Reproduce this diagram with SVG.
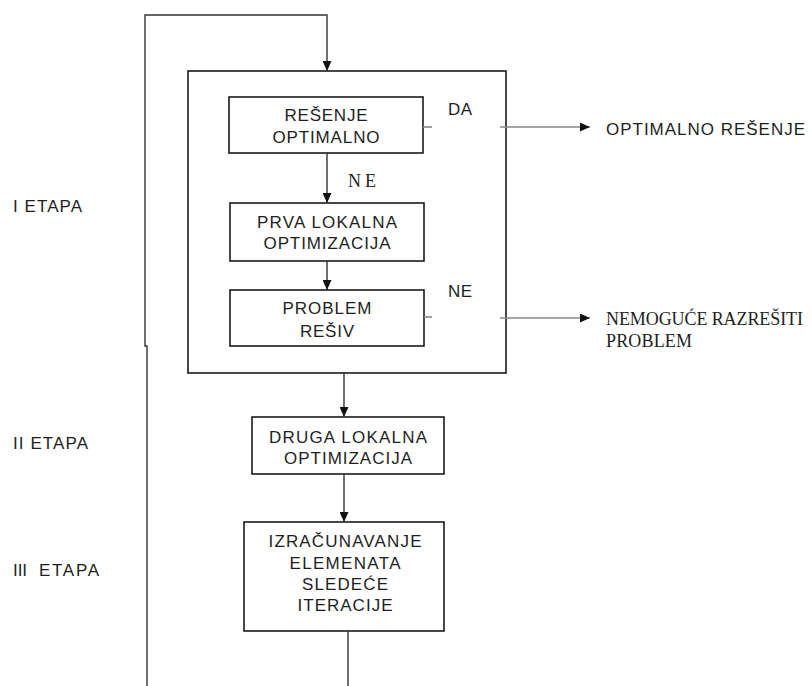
<svg xmlns="http://www.w3.org/2000/svg" width="812" height="686" viewBox="0 0 812 686">
<style>
.box{fill:#fff;stroke:#1a1a1a;stroke-width:1.6}
.t{font-family:"Liberation Sans",Arial,sans-serif;font-size:17px;fill:#1e1e1e}
.s{font-family:"Liberation Serif","Times New Roman",serif;font-size:18px;fill:#1e1e1e}
.c{text-anchor:middle}
.ln{fill:none;stroke:#333;stroke-width:1.4}
.g{fill:none;stroke:#888;stroke-width:1.6}
</style>
<defs>
<marker id="ah" viewBox="0 0 10 9" refX="10" refY="4.5" markerWidth="10" markerHeight="9" orient="auto" markerUnits="userSpaceOnUse"><path d="M0,0 L10,4.5 L0,9 z" fill="#111"/></marker>
</defs>
<rect width="812" height="686" fill="#fff"/>
<g id="stage1">
<rect class="box" x="188" y="71" width="318" height="302"/>
</g>
<g id="n1"><rect class="box" x="229" y="97" width="194" height="56"/>
<text class="t c" x="326" y="121" textLength="83" lengthAdjust="spacing">REŠENJE</text>
<text class="t c" x="326" y="143" textLength="107" lengthAdjust="spacing">OPTIMALNO</text></g>
<g id="n2"><rect class="box" x="230" y="203" width="194" height="58"/>
<text class="t c" x="327" y="228" textLength="140" lengthAdjust="spacing">PRVA LOKALNA</text>
<text class="t c" x="327" y="249" textLength="127" lengthAdjust="spacing">OPTIMIZACIJA</text></g>
<g id="n3"><rect class="box" x="230" y="290" width="194" height="56"/>
<text class="t c" x="327" y="314" textLength="89" lengthAdjust="spacing">PROBLEM</text>
<text class="t c" x="327" y="337" textLength="54" lengthAdjust="spacing">REŠIV</text></g>
<g id="n4"><rect class="box" x="252" y="417" width="192" height="57"/>
<text class="t c" x="348" y="443" textLength="158" lengthAdjust="spacing">DRUGA LOKALNA</text>
<text class="t c" x="348" y="464" textLength="128" lengthAdjust="spacing">OPTIMIZACIJA</text></g>
<g id="n5"><rect class="box" x="244" y="522" width="200" height="109"/>
<text class="t c" x="345" y="547" textLength="153" lengthAdjust="spacing">IZRAČUNAVANJE</text>
<text class="t c" x="345" y="569" textLength="111" lengthAdjust="spacing">ELEMENATA</text>
<text class="t c" x="345" y="590" textLength="86" lengthAdjust="spacing">SLEDEĆE</text>
<text class="t c" x="345" y="611" textLength="95" lengthAdjust="spacing">ITERACIJE</text></g>
<g id="out1"><text class="t" x="606" y="135" textLength="199" lengthAdjust="spacing">OPTIMALNO REŠENJE</text></g>
<g id="out2"><text class="s" x="606" y="325" textLength="197" lengthAdjust="spacing">NEMOGUĆE RAZREŠITI</text>
<text class="s" x="606" y="347" textLength="86" lengthAdjust="spacing">PROBLEM</text></g>
<g id="stages">
<text class="t" x="13" y="212" textLength="69" lengthAdjust="spacing">I ETAPA</text>
<text class="t" x="13" y="449" textLength="75" lengthAdjust="spacing">II ETAPA</text>
<text class="t" x="13" y="576" textLength="14" lengthAdjust="spacing">III</text>
<text class="t" x="39" y="576" textLength="60" lengthAdjust="spacing">ETAPA</text>
</g>
<g id="connectors">
<path class="ln" d="M147,686 V346 H145 V15 H327 V71" marker-end="url(#ah)"/>
<path class="ln" d="M327,153 V203" marker-end="url(#ah)"/>
<path class="ln" d="M327,261 V290" marker-end="url(#ah)"/>
<path class="ln" d="M344,373 V417" marker-end="url(#ah)"/>
<path class="ln" d="M344,474 V522" marker-end="url(#ah)"/>
<path class="ln" d="M348,631 V686"/>
<path class="g" d="M423,127 H432"/>
<path class="g" d="M424,317 H432"/>
<path class="g" d="M500,127 H590" marker-end="url(#ah)"/>
<path class="g" d="M500,318 H590" marker-end="url(#ah)"/>
<text class="t" x="448" y="115" textLength="24" lengthAdjust="spacing">DA</text>
<text class="t" x="448" y="297" textLength="24" lengthAdjust="spacing">NE</text>
<text class="s" x="348" y="187" textLength="28" lengthAdjust="spacing">NE</text>
</g>
</svg>
